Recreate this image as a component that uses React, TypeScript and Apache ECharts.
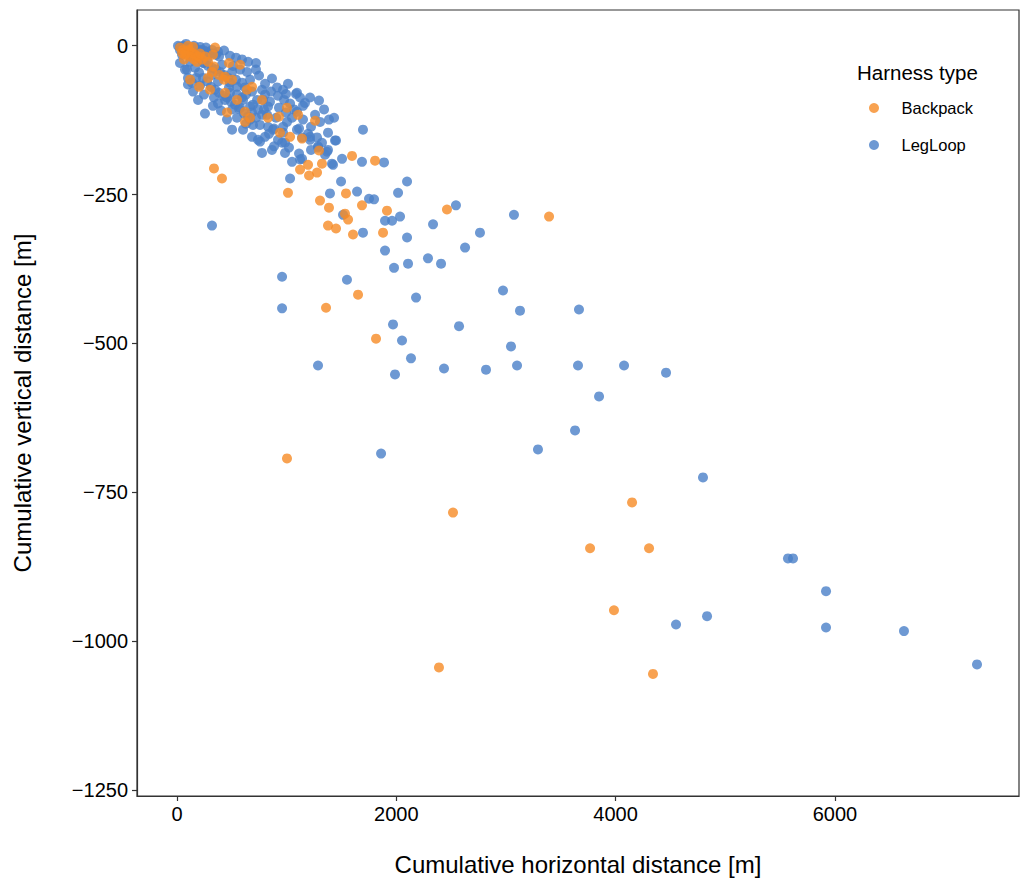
import React, { useEffect, useRef } from "react";
import * as echarts from "echarts";

const xTicks = [0, 2000, 4000, 6000];
const yTicks = [0, -250, -500, -750, -1000, -1250];
const harnessTypes = ["Backpack", "LegLoop"];

const backpack: number[][] = [
  [337, -206], [410, -223], [1012, -247], [1003, -693], [1359, -440], [1651, -418], [1815, -492],
  [2517, -784], [2389, -1044], [3393, -287], [2462, -275], [3767, -844], [4150, -767], [4305, -844],
  [3985, -948], [4341, -1055], [1596, -185], [1806, -193], [1195, -200], [1122, -208], [1204, -218],
  [1277, -213], [1322, -198], [1541, -248], [1304, -260], [1386, -272], [1687, -268], [1915, -277],
  [1532, -282], [1560, -292], [1377, -302], [1450, -307], [1605, -317], [1879, -314], [1140, -156],
  [1031, -153], [1295, -176], [939, -146],
  [1259, -126], [1003, -104], [930, -119], [775, -91], [684, -69], [620, -128], [666, -121],
  [456, -112], [474, -29], [429, -57], [337, -35], [228, -23], [182, -27], [347, -3], [91, -10],
  [64, -23], [119, -57], [201, -69], [547, -91], [301, -74], [575, -32], [620, -111], [830, -121],
  [1104, -116], [100, -12], [328, -15], [438, -52], [502, -57], [438, -79], [283, -54], [638, -74],
  [27, -3], [55, -7], [82, -10], [109, -7], [137, -12], [164, -15], [119, -18], [155, -23],
  [192, -18], [73, -15], [46, -12], [100, 0], [146, -2], [210, -13], [255, -18], [283, -27],
  [319, -44], [383, -49],
];

const legLoop: number[][] = [
  [319, -302], [958, -388], [958, -441], [1550, -393], [1286, -537], [1970, -468], [2052, -495],
  [2134, -525], [1988, -552], [1861, -685], [2180, -423], [2435, -542], [2572, -471], [2818, -544],
  [2973, -411], [3046, -505], [3101, -537], [3128, -445], [3666, -443], [3657, -537], [3849, -589],
  [3630, -646], [4077, -537], [4460, -549], [3292, -678], [4797, -725], [5572, -861], [5618, -861],
  [5919, -916], [5919, -977], [6630, -983], [7296, -1039], [4551, -972], [4834, -958], [2335, -300],
  [2544, -268], [2763, -314], [3073, -284], [2627, -339], [2098, -322], [1897, -344], [1979, -373],
  [2107, -366], [2289, -357], [2408, -366], [1696, -314], [1897, -294], [1961, -294], [2034, -287],
  [1514, -284], [1395, -248], [1642, -245], [1751, -257], [1797, -258], [2016, -247], [2098, -228],
  [1496, -228], [1031, -223], [1888, -196], [1687, -195], [1505, -190], [1696, -141], [1441, -159],
  [1413, -198], [1368, -178], [1286, -169], [1213, -153], [1140, -190], [1113, -181], [1049, -195],
  [985, -180], [866, -175], [775, -180],
  [429, -8], [593, -23], [720, -29], [748, -50], [866, -55], [1012, -64], [1085, -81], [1213, -87],
  [1295, -92], [1341, -107], [1149, -101], [1432, -121], [1386, -124], [1377, -146], [1450, -159],
  [885, -169], [958, -163], [255, -114], [502, -141], [328, -101], [401, -109], [100, -65], [246, -82],
  [91, -40], [438, -91], [593, -87], [693, -133], [684, -153], [757, -161], [839, -148], [885, -139],
  [1003, -128], [967, -146], [1113, -139], [1195, -148], [1222, -136], [985, -163], [967, -74],
  [1094, -79], [1167, -96], [1149, -124], [1049, -121], [967, -136], [1094, -141], [1140, -154],
  [876, -141], [830, -136], [739, -158], [602, -141], [1286, -171], [1377, -175], [1213, -158],
  [1122, -191], [1423, -200], [483, -79], [547, -69], [602, -91], [666, -102], [784, -91], [821, -116],
  [666, -124], [757, -133], [547, -82], [575, -104], [684, -112], [775, -116], [830, -102], [803, -82],
  [593, -62], [684, -77], [483, -62], [374, -60], [319, -49], [502, -44], [410, -32], [73, -40],
  [100, -54], [137, -62], [237, -29], [274, -23], [27, -29], [46, -15],
  [9, 0], [27, -2], [55, 0], [82, -2], [109, -3], [137, -3], [164, -5], [192, -7], [219, -7],
  [246, -8], [274, -10], [301, -12], [328, -13], [356, -15], [383, -18], [27, -7], [64, -10],
  [100, -13], [137, -17], [173, -20], [210, -23], [246, -29], [283, -34], [319, -37], [356, -40],
  [392, -44], [429, -49], [465, -54], [119, -27], [164, -37], [201, -45], [237, -54], [274, -60],
  [310, -69], [347, -74], [383, -79], [420, -84], [456, -87], [492, -94], [529, -99], [565, -106],
  [611, -114], [648, -119], [629, -131], [720, -121], [793, -107], [848, -94], [921, -84], [976, -91],
  [1031, -97], [1067, -107], [930, -104], [903, -121], [994, -112], [1094, -111], [1259, -116],
  [1304, -128], [1277, -154], [1322, -163], [1350, -183], [1222, -175], [1021, -171], [921, -158],
  [803, -153], [629, -82], [538, -57], [638, -44], [803, -64], [912, -70], [666, -57], [730, -91],
  [620, -70], [474, -70], [337, -87], [192, -91], [146, -77],
  [82, 3], [155, 0], [210, -2], [264, -3], [319, -7], [374, -10], [483, -17], [538, -20], [648, -27],
  [511, -34], [575, -40], [720, -40], [775, -74], [857, -77], [994, -81], [1122, -87], [693, -99],
  [739, -107], [547, -121], [502, -107], [456, -124], [374, -97], [173, -54], [210, -67],
];

const FONT = "'Liberation Sans', Arial, Helvetica, sans-serif";
const AXIS_COLOR = "#333333";
const fmt = (v: number) => String(v).replace("-", "\u2212");

export default function App() {
  const ref = useRef<HTMLDivElement>(null);
  useEffect(() => {
    const chart = echarts.init(ref.current!, null, { renderer: "svg" });
    chart.setOption({
      animation: false,
      backgroundColor: "#ffffff",
      textStyle: { fontFamily: FONT },
      grid: {
        left: 137, right: 2, top: 10, bottom: 84,
        show: true, borderColor: AXIS_COLOR, borderWidth: 1.2, backgroundColor: "transparent",
      },
      xAxis: {
        type: "value", min: -365, max: 7679,
        name: "Cumulative horizontal distance [m]", nameLocation: "middle", nameGap: 56,
        nameTextStyle: { fontSize: 24, color: "#000", fontFamily: FONT },
        axisLine: { show: true, onZero: false, lineStyle: { color: AXIS_COLOR, width: 1.2 } },
        axisTick: { show: true, length: 5, customValues: xTicks, lineStyle: { color: AXIS_COLOR, width: 1.2 } },
        axisLabel: { customValues: xTicks, fontSize: 20, color: "#000", margin: 8, formatter: fmt, fontFamily: FONT },
        splitLine: { show: false },
      },
      yAxis: {
        type: "value", min: -1260, max: 60,
        name: "Cumulative vertical distance [m]", nameLocation: "middle", nameGap: 103,
        nameTextStyle: { fontSize: 24, color: "#000", fontFamily: FONT },
        axisLine: { show: true, onZero: false, lineStyle: { color: AXIS_COLOR, width: 1.2 } },
        axisTick: { show: true, length: 5, customValues: yTicks, lineStyle: { color: AXIS_COLOR, width: 1.2 } },
        axisLabel: { customValues: yTicks, fontSize: 20, color: "#000", margin: 9, formatter: fmt, fontFamily: FONT },
        splitLine: { show: false },
      },
      legend: {
        data: harnessTypes, orient: "vertical", left: 864, top: 94,
        itemWidth: 45, itemHeight: 10, itemGap: 19, icon: "circle",
        textStyle: { fontSize: 16.5, color: "#000", lineHeight: 18, fontFamily: FONT },
        selectedMode: false,
      },
      graphic: [
        {
          type: "text", left: 857, top: 62,
          style: { text: "Harness type", fontSize: 20.5, fill: "#000", fontFamily: FONT },
        },
      ],
      series: [
        {
          type: "scatter", name: "LegLoop", data: legLoop, symbolSize: 10,
          itemStyle: { color: "#4A80C8", opacity: 0.8 }, emphasis: { disabled: true }, silent: true,
        },
        {
          type: "scatter", name: "Backpack", data: backpack, symbolSize: 10,
          itemStyle: { color: "#F68B25", opacity: 0.8 }, emphasis: { disabled: true }, silent: true,
        },
      ],
    });
    return () => chart.dispose();
  }, []);
  return <div ref={ref} style={{ position: "absolute", left: 0, top: 0, width: 1021, height: 881 }} />;
}
